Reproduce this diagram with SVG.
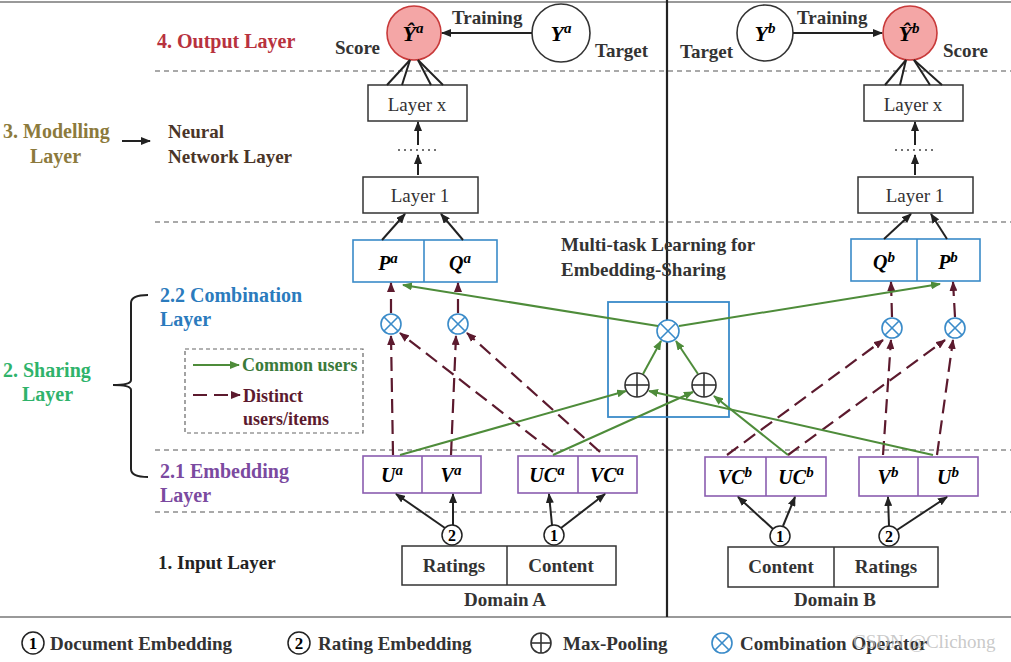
<svg xmlns="http://www.w3.org/2000/svg" width="1011" height="662" viewBox="0 0 1011 662">
<style>
text{font-family:"Liberation Serif","Times New Roman",serif;}
.b{font-weight:bold;}
.m{font-weight:bold;font-style:italic;font-size:20px;text-anchor:middle;}
.yc{font-size:22px;}
.sup{font-size:15px;}
.lbl{font-weight:bold;font-size:19px;fill:#333;}
.dash{stroke:#555;stroke-width:1.2;stroke-dasharray:5 4;fill:none;}
.box{fill:#fff;stroke:#333;stroke-width:1.5;}
.bbox{fill:#fff;stroke:#3a8bc9;stroke-width:1.6;}
.pbox{fill:#fff;stroke:#8a5db0;stroke-width:1.6;}
.blk{stroke:#222;stroke-width:2;fill:none;}
.grn{stroke:#4e8c3a;stroke-width:2;fill:none;}
.mar{stroke:#5c1a2e;stroke-width:2.2;fill:none;stroke-dasharray:14 7;}
.otc{fill:#fff;stroke:#3a8bc9;stroke-width:1.6;}
.otl{stroke:#3a8bc9;stroke-width:1.6;}
.opc{fill:#fff;stroke:#333;stroke-width:1.6;}
.opl{stroke:#333;stroke-width:1.6;}
</style>
<defs>
<marker id="ab" markerUnits="userSpaceOnUse" markerWidth="10" markerHeight="8" refX="9" refY="4" orient="auto"><path d="M0,0 L10,4 L0,8 z" fill="#222"/></marker>
<marker id="ag" markerUnits="userSpaceOnUse" markerWidth="10" markerHeight="8" refX="9" refY="4" orient="auto"><path d="M0,0 L10,4 L0,8 z" fill="#4e8c3a"/></marker>
<marker id="am" markerUnits="userSpaceOnUse" markerWidth="10" markerHeight="8" refX="9" refY="4" orient="auto"><path d="M0,0 L10,4 L0,8 z" fill="#5c1a2e"/></marker>
</defs>
<rect width="1011" height="662" fill="#fff"/>
<!-- frame lines -->
<line x1="0" y1="2" x2="1011" y2="2" stroke="#999" stroke-width="2"/>
<line x1="0" y1="617" x2="1011" y2="617" stroke="#999" stroke-width="2"/>
<line x1="667" y1="0" x2="667" y2="617" stroke="#222" stroke-width="2.2"/>
<line class="dash" x1="155" y1="71" x2="1011" y2="71"/>
<line class="dash" x1="155" y1="222" x2="1011" y2="222"/>
<line class="dash" x1="155" y1="450" x2="1011" y2="450"/>
<line class="dash" x1="155" y1="512" x2="1011" y2="512"/>

<!-- layer labels -->
<g id="labels">
<text x="157" y="48" class="b" font-size="20" fill="#b8323e">4. Output Layer</text>
<text x="3" y="138" class="b" font-size="20" fill="#8c7a3c">3. Modelling</text>
<text x="30" y="163" class="b" font-size="20" fill="#8c7a3c">Layer</text>
<text x="168" y="138" class="b" font-size="19" fill="#4a3528">Neural</text>
<text x="168" y="163" class="b" font-size="19" fill="#4a3528">Network Layer</text>
<text x="160" y="302" class="b" font-size="20" fill="#2b7bbd">2.2 Combination</text>
<text x="160" y="326" class="b" font-size="20" fill="#2b7bbd">Layer</text>
<text x="3" y="377" class="b" font-size="20" fill="#2fb36b">2. Sharing</text>
<text x="22" y="401" class="b" font-size="20" fill="#2fb36b">Layer</text>
<text x="160" y="478" class="b" font-size="20" fill="#7b4aa0">2.1 Embedding</text>
<text x="160" y="502" class="b" font-size="20" fill="#7b4aa0">Layer</text>
<text x="158" y="569" class="b" font-size="19" fill="#222">1. Input Layer</text>
<text x="561" y="251" class="lbl">Multi-task Learning for</text>
<text x="561" y="276" class="lbl">Embedding-Sharing</text>
<path d="M148,295 Q131,295 131,303 L131,380 Q131,385 113,385 Q131,385 131,390 L131,469 Q131,477 148,477" class="blk" stroke-width="2"/>
</g>

<!-- output layer A -->
<g id="yhat-a">
<circle cx="414" cy="33" r="27" fill="#f4a6a6" stroke="#c83a3a" stroke-width="1.6"/>
<text x="413" y="41" class="m yc">Ŷ<tspan class="sup" dy="-8">a</tspan></text>
<text x="335" y="54" class="lbl">Score</text>
</g>
<g id="y-a">
<circle cx="561" cy="33" r="29" fill="#fff" stroke="#333" stroke-width="1.6"/>
<text x="561" y="41" class="m yc">Y<tspan class="sup" dy="-8">a</tspan></text>
<text x="595" y="57" class="lbl">Target</text>
<text x="452" y="24" class="lbl">Training</text>
</g>
<g id="yhat-b">
<circle cx="910" cy="33" r="27" fill="#f4a6a6" stroke="#c83a3a" stroke-width="1.6"/>
<text x="909" y="41" class="m yc">Ŷ<tspan class="sup" dy="-8">b</tspan></text>
<text x="943" y="57" class="lbl">Score</text>
</g>
<g id="y-b">
<circle cx="765" cy="33" r="28" fill="#fff" stroke="#333" stroke-width="1.6"/>
<text x="765" y="41" class="m yc">Y<tspan class="sup" dy="-8">b</tspan></text>
<text x="680" y="58" class="lbl">Target</text>
<text x="797" y="24" class="lbl">Training</text>
</g>

<!-- modelling layer -->
<g id="layerx-a"><rect class="box" x="368" y="85" width="99" height="36"/><text x="417" y="111" font-size="19" text-anchor="middle" fill="#333">Layer x</text></g>
<g id="layer1-a"><rect class="box" x="363" y="177" width="115" height="36"/><text x="420" y="202" font-size="19" text-anchor="middle" fill="#333">Layer 1</text></g>
<g id="layerx-b"><rect class="box" x="864" y="85" width="99" height="36"/><text x="913" y="111" font-size="19" text-anchor="middle" fill="#333">Layer x</text></g>
<g id="layer1-b"><rect class="box" x="858" y="177" width="115" height="36"/><text x="915" y="202" font-size="19" text-anchor="middle" fill="#333">Layer 1</text></g>
<g id="dots">
<line x1="398" y1="150" x2="440" y2="150" stroke="#444" stroke-width="1.5" stroke-dasharray="2 4"/>
<line x1="895" y1="150" x2="937" y2="150" stroke="#444" stroke-width="1.5" stroke-dasharray="2 4"/>
</g>

<!-- combination layer -->
<g id="pq-a"><rect class="bbox" x="353" y="240" width="144" height="42"/><line class="otl" x1="424" y1="240" x2="424" y2="282"/>
<text x="388" y="270" class="m">P<tspan class="sup" dy="-7">a</tspan></text>
<text x="460" y="270" class="m">Q<tspan class="sup" dy="-7">a</tspan></text></g>
<g id="qp-b"><rect class="bbox" x="851" y="239" width="129" height="42"/><line class="otl" x1="917" y1="239" x2="917" y2="281"/>
<text x="884" y="269" class="m">Q<tspan class="sup" dy="-7">b</tspan></text>
<text x="948" y="269" class="m">P<tspan class="sup" dy="-7">b</tspan></text></g>

<g id="otimes-a1"><circle class="otc" cx="391" cy="324" r="10"/><line class="otl" x1="384" y1="317" x2="398" y2="331"/><line class="otl" x1="398" y1="317" x2="384" y2="331"/></g>
<g id="otimes-a2"><circle class="otc" cx="458" cy="324" r="10"/><line class="otl" x1="451" y1="317" x2="465" y2="331"/><line class="otl" x1="465" y1="317" x2="451" y2="331"/></g>
<g id="otimes-b1"><circle class="otc" cx="892" cy="328" r="10"/><line class="otl" x1="885" y1="321" x2="899" y2="335"/><line class="otl" x1="899" y1="321" x2="885" y2="335"/></g>
<g id="otimes-b2"><circle class="otc" cx="955" cy="328" r="10"/><line class="otl" x1="948" y1="321" x2="962" y2="335"/><line class="otl" x1="962" y1="321" x2="948" y2="335"/></g>

<g id="multitask">
<rect x="608" y="302" width="121" height="115" fill="none" stroke="#3a8bc9" stroke-width="1.8"/>
<circle class="otc" cx="668" cy="331" r="11"/><line class="otl" x1="660" y1="323" x2="676" y2="339"/><line class="otl" x1="676" y1="323" x2="660" y2="339"/>
<circle class="opc" cx="637" cy="385" r="12"/><line class="opl" x1="625" y1="385" x2="649" y2="385"/><line class="opl" x1="637" y1="373" x2="637" y2="397"/>
<circle class="opc" cx="704" cy="385" r="12"/><line class="opl" x1="692" y1="385" x2="716" y2="385"/><line class="opl" x1="704" y1="373" x2="704" y2="397"/>
</g>

<g id="legend-box">
<rect x="185" y="349" width="178" height="84" fill="none" stroke="#666" stroke-width="1.2" stroke-dasharray="4 3"/>
<line class="grn" x1="193" y1="365" x2="239" y2="365" marker-end="url(#ag)"/>
<text x="242" y="371" class="b" font-size="18" fill="#3a7a3a">Common users</text>
<line class="mar" x1="193" y1="395" x2="240" y2="395" stroke-dasharray="13 7" marker-end="url(#am)"/>
<text x="243" y="402" class="b" font-size="18" fill="#5c1a2e">Distinct</text>
<text x="243" y="425" class="b" font-size="18" fill="#5c1a2e">users/items</text>
</g>

<!-- embedding layer -->
<g id="uv-a"><rect class="pbox" x="363" y="456" width="118" height="37"/><line x1="422" y1="456" x2="422" y2="493" stroke="#8a5db0" stroke-width="1.6"/>
<text x="392" y="482" class="m">U<tspan class="sup" dy="-7">a</tspan></text>
<text x="451" y="482" class="m">V<tspan class="sup" dy="-7">a</tspan></text></g>
<g id="ucvc-a"><rect class="pbox" x="518" y="456" width="119" height="37"/><line x1="578" y1="456" x2="578" y2="493" stroke="#8a5db0" stroke-width="1.6"/>
<text x="547" y="482" class="m">UC<tspan class="sup" dy="-7">a</tspan></text>
<text x="607" y="482" class="m">VC<tspan class="sup" dy="-7">a</tspan></text></g>
<g id="vcuc-b"><rect class="pbox" x="705" y="457" width="121" height="39"/><line x1="766" y1="457" x2="766" y2="496" stroke="#8a5db0" stroke-width="1.6"/>
<text x="735" y="484" class="m">VC<tspan class="sup" dy="-7">b</tspan></text>
<text x="796" y="484" class="m">UC<tspan class="sup" dy="-7">b</tspan></text></g>
<g id="vu-b"><rect class="pbox" x="859" y="457" width="119" height="39"/><line x1="918" y1="457" x2="918" y2="496" stroke="#8a5db0" stroke-width="1.6"/>
<text x="888" y="484" class="m">V<tspan class="sup" dy="-7">b</tspan></text>
<text x="948" y="484" class="m">U<tspan class="sup" dy="-7">b</tspan></text></g>

<!-- input layer -->
<g id="input-a"><rect class="box" x="402" y="546" width="214" height="39"/><line x1="507" y1="546" x2="507" y2="585" stroke="#333" stroke-width="1.5"/>
<text x="454" y="572" class="lbl" text-anchor="middle">Ratings</text>
<text x="561" y="572" class="lbl" text-anchor="middle">Content</text>
<text x="505" y="606" class="lbl" text-anchor="middle">Domain A</text></g>
<g id="input-b"><rect class="box" x="728" y="547" width="210" height="40"/><line x1="834" y1="547" x2="834" y2="587" stroke="#333" stroke-width="1.5"/>
<text x="781" y="573" class="lbl" text-anchor="middle">Content</text>
<text x="886" y="573" class="lbl" text-anchor="middle">Ratings</text>
<text x="835" y="606" class="lbl" text-anchor="middle">Domain B</text></g>
<g id="emb-circles">
<circle cx="452" cy="535" r="10" fill="#fff" stroke="#222" stroke-width="1.5"/><text x="452" y="541" class="b" font-size="16" text-anchor="middle">2</text>
<circle cx="554" cy="535" r="10" fill="#fff" stroke="#222" stroke-width="1.5"/><text x="554" y="541" class="b" font-size="16" text-anchor="middle">1</text>
<circle cx="780" cy="536" r="10" fill="#fff" stroke="#222" stroke-width="1.5"/><text x="780" y="542" class="b" font-size="16" text-anchor="middle">1</text>
<circle cx="889" cy="536" r="10" fill="#fff" stroke="#222" stroke-width="1.5"/><text x="889" y="542" class="b" font-size="16" text-anchor="middle">2</text>
</g>

<!-- connectors -->
<g id="connectors">
<line class="blk" x1="532" y1="33" x2="442" y2="33" marker-end="url(#ab)"/>
<line class="blk" x1="793" y1="33" x2="882" y2="33" marker-end="url(#ab)"/>
<line class="blk" x1="410" y1="60" x2="387" y2="85"/><line class="blk" x1="410" y1="60" x2="402" y2="85"/>
<line class="blk" x1="418" y1="60" x2="431" y2="85"/><line class="blk" x1="418" y1="60" x2="443" y2="85"/>
<line class="blk" x1="906" y1="60" x2="885" y2="85"/><line class="blk" x1="906" y1="60" x2="900" y2="85"/>
<line class="blk" x1="914" y1="60" x2="930" y2="85"/><line class="blk" x1="914" y1="60" x2="942" y2="85"/>
<line class="blk" x1="418" y1="175" x2="418" y2="155" marker-end="url(#ab)"/>
<line class="blk" x1="418" y1="145" x2="418" y2="122" marker-end="url(#ab)"/>
<line class="blk" x1="915" y1="175" x2="915" y2="155" marker-end="url(#ab)"/>
<line class="blk" x1="915" y1="145" x2="915" y2="122" marker-end="url(#ab)"/>
<line class="blk" x1="382" y1="240" x2="405" y2="214" marker-end="url(#ab)"/>
<line class="blk" x1="463" y1="240" x2="441" y2="214" marker-end="url(#ab)"/>
<line class="blk" x1="884" y1="239" x2="911" y2="214" marker-end="url(#ab)"/>
<line class="blk" x1="947" y1="239" x2="931" y2="214" marker-end="url(#ab)"/>
<line class="blk" x1="122" y1="141" x2="150" y2="141" stroke-width="2.5" marker-end="url(#ab)"/>
<!-- input to embedding -->
<line class="blk" x1="445" y1="528" x2="396" y2="494" marker-end="url(#ab)"/>
<line class="blk" x1="453" y1="525" x2="453" y2="494" marker-end="url(#ab)"/>
<line class="blk" x1="552" y1="525" x2="549" y2="494" marker-end="url(#ab)"/>
<line class="blk" x1="561" y1="528" x2="605" y2="494" marker-end="url(#ab)"/>
<line class="blk" x1="773" y1="529" x2="738" y2="497" marker-end="url(#ab)"/>
<line class="blk" x1="783" y1="526" x2="795" y2="497" marker-end="url(#ab)"/>
<line class="blk" x1="889" y1="526" x2="888" y2="497" marker-end="url(#ab)"/>
<line class="blk" x1="897" y1="530" x2="947" y2="497" marker-end="url(#ab)"/>
<!-- distinct users/items (maroon dashed) -->
<line class="mar" x1="393" y1="455" x2="391" y2="336" marker-end="url(#am)"/>
<line class="mar" x1="391" y1="313" x2="391" y2="283" marker-end="url(#am)"/>
<line class="mar" x1="451" y1="455" x2="456" y2="336" marker-end="url(#am)"/>
<line class="mar" x1="458" y1="313" x2="458" y2="283" marker-end="url(#am)"/>
<line class="mar" x1="553" y1="452" x2="400" y2="333" marker-end="url(#am)"/>
<line class="mar" x1="600" y1="452" x2="467" y2="333" marker-end="url(#am)"/>
<line class="mar" x1="727" y1="455" x2="883" y2="340" marker-end="url(#am)"/>
<line class="mar" x1="788" y1="455" x2="945" y2="340" marker-end="url(#am)"/>
<line class="mar" x1="883" y1="455" x2="891" y2="340" marker-end="url(#am)"/>
<line class="mar" x1="937" y1="455" x2="953" y2="340" marker-end="url(#am)"/>
<line class="mar" x1="892" y1="317" x2="891" y2="282" marker-end="url(#am)"/>
<line class="mar" x1="955" y1="317" x2="953" y2="282" marker-end="url(#am)"/>
<!-- common users (green) -->
<line class="grn" x1="400" y1="455" x2="626" y2="391" marker-end="url(#ag)"/>
<line class="grn" x1="553" y1="455" x2="693" y2="392" marker-end="url(#ag)"/>
<line class="grn" x1="933" y1="455" x2="649" y2="391" marker-end="url(#ag)"/>
<line class="grn" x1="788" y1="455" x2="714" y2="396" marker-end="url(#ag)"/>
<line class="grn" x1="643" y1="374" x2="661" y2="341" marker-end="url(#ag)"/>
<line class="grn" x1="698" y1="374" x2="676" y2="341" marker-end="url(#ag)"/>
<line class="grn" x1="658" y1="326" x2="403" y2="285" marker-end="url(#ag)"/>
<line class="grn" x1="679" y1="326" x2="940" y2="284" marker-end="url(#ag)"/>
</g>

<!-- bottom legend -->
<g id="legend">
<circle cx="33" cy="643" r="11" fill="#fff" stroke="#222" stroke-width="1.5"/><text x="33" y="649" class="b" font-size="17" text-anchor="middle">1</text>
<text x="50" y="650" class="lbl" font-size="20">Document Embedding</text>
<circle cx="299" cy="643" r="11" fill="#fff" stroke="#222" stroke-width="1.5"/><text x="299" y="649" class="b" font-size="17" text-anchor="middle">2</text>
<text x="318" y="650" class="lbl" font-size="20">Rating Embedding</text>
<circle class="opc" cx="541" cy="643" r="10"/><line class="opl" x1="531" y1="643" x2="551" y2="643"/><line class="opl" x1="541" y1="633" x2="541" y2="653"/>
<text x="563" y="650" class="lbl" font-size="20">Max-Pooling</text>
<circle class="otc" cx="722" cy="643" r="10"/><line class="otl" x1="715" y1="636" x2="729" y2="650"/><line class="otl" x1="729" y1="636" x2="715" y2="650"/>
<text x="740" y="650" class="lbl" font-size="20">Combination Operator</text>
<text x="853" y="648" font-family="'Noto Sans',sans-serif" font-size="19" fill="#bbb" fill-opacity="0.8">CSDN @Clichong</text>
</g>
</svg>
